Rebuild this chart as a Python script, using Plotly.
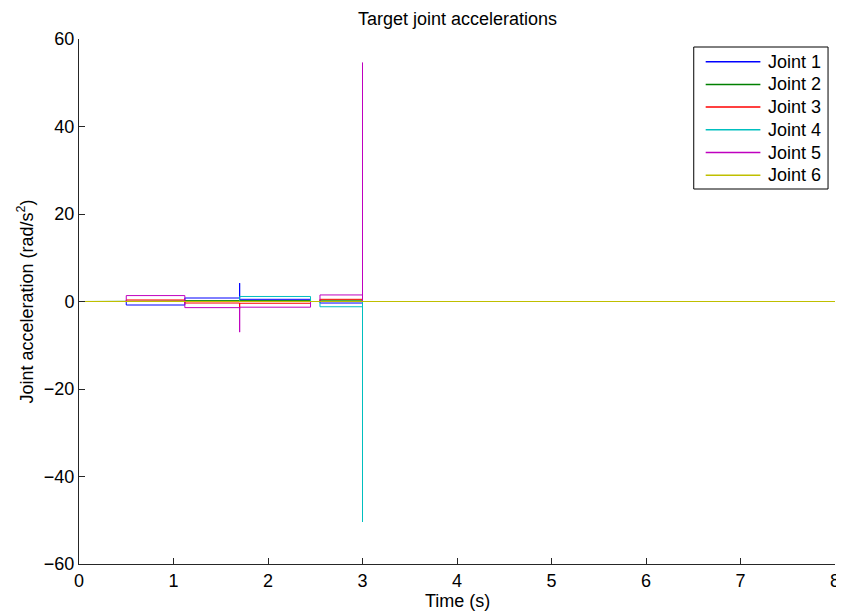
import plotly.graph_objects as go

# Shared time breakpoints (s)
time = [0, 0.5, 0.5, 1.12, 1.12, 1.7, 1.7, 1.7, 2.45, 2.45, 2.55, 2.55, 3.0, 3.0, 3.0, 8.0]

# Joint accelerations (rad/s^2) at each breakpoint
joint1 = [0, 0, -0.8, -0.8, 0.8, 0.8, 4.2, 0.5, 0.5, 0, 0, -0.35, -0.35, -16.0, 0, 0]
joint2 = [0, 0, 0.1, 0.1, 0.2, 0.2, 0.5, 0.2, 0.2, 0, 0, 0.3, 0.3, 2.0, 0, 0]
joint3 = [0, 0, 0.35, 0.35, -0.35, -0.35, -1.6, -0.4, -0.4, 0, 0, 0.5, 0.5, 24.0, 0, 0]
joint4 = [0, 0, 0, 0, 0, 0, 0, 1.15, 1.15, 0, 0, -1.2, -1.2, -50.4, 0, 0]
joint5 = [0, 0, 1.35, 1.35, -1.4, -1.4, -7.0, -1.3, -1.3, 0, 0, 1.5, 1.5, 54.6, 0, 0]
joint6 = [0, 0, 0.05, 0.05, 0.05, 0.05, 0, 0.0, 0.0, 0, 0, 0.1, 0.1, 0, 0, 0]

names = ["Joint 1", "Joint 2", "Joint 3", "Joint 4", "Joint 5", "Joint 6"]
colors = ["#0000ff", "#008000", "#ff0000", "#00bfbf", "#bf00bf", "#bfbf00"]
series = [joint1, joint2, joint3, joint4, joint5, joint6]

x_ticks = [0, 1, 2, 3, 4, 5, 6, 7, 8]
y_ticks = [-60, -40, -20, 0, 20, 40, 60]
y_tick_text = ["\u221260", "\u221240", "\u221220", "0", "20", "40", "60"]

# ---- layout geometry (figure pixels) ----
W, H = 844, 614
ML, MR, MT, MB = 71, 13, 31, 58
PW, PH = W - ML - MR, H - MT - MB


def px(x):
    return (x - ML) / PW


def py(y):
    return 1 - (y - MT) / PH


FAM = "Liberation Sans, Arial, Helvetica, sans-serif"
font = dict(family=FAM, size=18, color="#000")

fig = go.Figure()
for name, col, ys in zip(names, colors, series):
    fig.add_trace(go.Scatter(x=time, y=ys, mode="lines", name=name, showlegend=False,
                             line=dict(color=col, width=1)))

# ---- legend drawn as a boxed key (MATLAB style) ----
shapes = [dict(type="rect", xref="paper", yref="paper",
               x0=px(689), x1=px(824), y0=py(181), y1=py(39),
               line=dict(color="#000", width=1), fillcolor="white", layer="above")]
annotations = []
for i, (name, col) in enumerate(zip(names, colors)):
    yc = 53.7 + 22.7 * i
    shapes.append(dict(type="line", xref="paper", yref="paper",
                       x0=px(701), x1=px(756), y0=py(yc), y1=py(yc),
                       line=dict(color=col, width=1.5), layer="above"))
    annotations.append(dict(text=name, x=px(762), y=py(yc), xref="paper", yref="paper",
                            xanchor="left", yanchor="middle", showarrow=False, font=font))

annotations += [
    dict(text="Target joint accelerations", x=0.5, y=1, xref="paper", yref="paper",
         xanchor="center", yanchor="middle", yshift=20, showarrow=False, font=font),
    dict(text="Time (s)", x=0.5, y=0, xref="paper", yref="paper",
         xanchor="center", yanchor="middle", yshift=-37, showarrow=False, font=font),
    dict(text="Joint acceleration (rad/s<sup>2</sup>)", x=0, y=0.5, xref="paper",
         yref="paper", xanchor="center", yanchor="middle", xshift=-53, textangle=-90,
         showarrow=False, font=font),
]

fig.update_layout(
    width=W, height=H,
    margin=dict(l=ML, r=MR, t=MT, b=MB),
    paper_bgcolor="white", plot_bgcolor="white",
    font=font,
    showlegend=False,
    xaxis=dict(range=[0, 8], tickvals=x_ticks, ticks="inside", ticklen=6,
               showline=True, linecolor="#262626", linewidth=1, mirror=False,
               showgrid=False, zeroline=False, tickcolor="#262626",
               tickfont=font),
    yaxis=dict(range=[-60, 60], tickvals=y_ticks, ticktext=y_tick_text,
               ticks="inside", ticklen=6,
               showline=True, linecolor="#262626", linewidth=1, mirror=False,
               showgrid=False, zeroline=False, tickcolor="#262626",
               tickfont=font),
    shapes=shapes,
    annotations=annotations,
)

fig.write_html("out.html")
